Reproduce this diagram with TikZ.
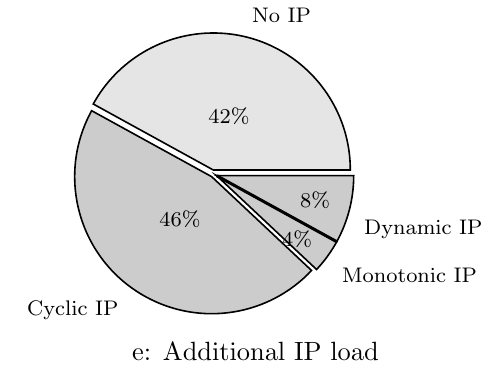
\documentclass[tikz,border=0pt]{standalone}
\font\lblf=cmr8 at 21.1pt
\font\pctf=cmr8 at 21.1pt
\font\capf=cmr10 at 26.4pt
\begin{document}
\begin{tikzpicture}[x=1pt,y=1pt,
  slice/.style={draw=black,line width=1.6pt,line join=miter},
  lbl/.style={inner sep=0pt,anchor=base west,font=\lblf},
  pct/.style={inner sep=0pt,anchor=base,font=\pctf},
  captext/.style={inner sep=0pt,anchor=base west,font=\capf}]
\useasboundingbox (0,0) rectangle (493,367);
\def\R{137}
\coordinate (cn) at (213.3,197);
\coordinate (cc) at (211.7,190.3);
\coordinate (cd) at (216.7,191.3);
% No IP
\draw[slice,fill=black!10] (cn) -- ++(0:\R) arc[start angle=0,end angle=151.2,radius=\R] -- cycle;
% Cyclic IP
\draw[slice,fill=black!20] (cc) -- ++(151.2:\R) arc[start angle=151.2,end angle=316.8,radius=\R] -- cycle;
% Monotonic IP
\draw[slice,fill=black!20] (cd) -- ++(316.8:\R) arc[start angle=316.8,end angle=331.2,radius=\R] -- cycle;
% Dynamic IP
\draw[slice,fill=black!20] (cd) -- ++(331.2:\R) arc[start angle=331.2,end angle=360,radius=\R] -- cycle;
\draw[line width=3pt] (cd) -- ++(331.2:\R);
% percentages
\node[pct] (p42) at (229,243) {42\%};
\node[pct] (p46) at (180,140) {46\%};
\node[pct] (p8) at (315,159) {8\%};
\node[pct] (p4) at (297,120) {4\%};
% labels
\node[lbl] (lno) at (252,344) {No IP};
\node[lbl] (ldyn) at (364,132) {Dynamic IP};
\node[lbl] (lmono) at (342,84) {Monotonic IP};
\node[lbl] (lcyc) at (27,51) {Cyclic IP};
\node[captext] (caption) at (132,6) {e: Additional IP load};
\end{tikzpicture}
\end{document}
